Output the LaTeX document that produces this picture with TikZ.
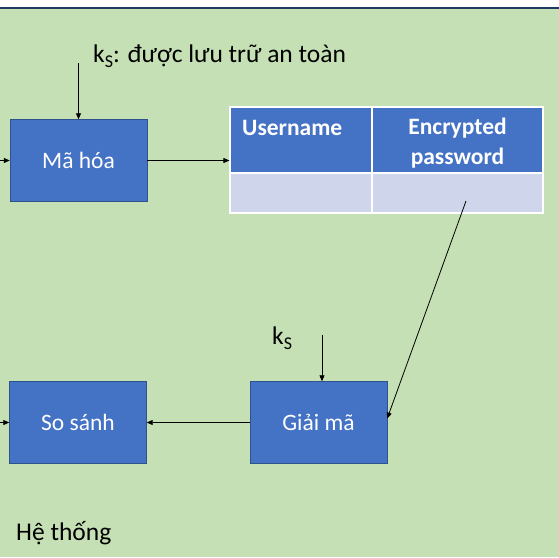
\documentclass[tikz,border=0pt]{standalone}
\usepackage{fontspec}
\setmainfont{Carlito}
\usetikzlibrary{arrows.meta,positioning}

\definecolor{bggreen}{HTML}{C5E0B4}
\definecolor{boxblue}{HTML}{4472C4}
\definecolor{boxline}{HTML}{2F528F}
\definecolor{cellblue}{HTML}{CFD5EA}
\definecolor{topline}{HTML}{203864}

\newcommand{\diagfont}{\fontsize{23.5}{30}\selectfont}
\newcommand{\labelfont}{\fontsize{25.5}{30}\selectfont}
\newcommand{\ksub}{k\raisebox{-5pt}{\fontsize{18}{18}\selectfont S}}

\begin{document}
\begin{tikzpicture}
  [
    x=1pt, y=-1pt,
    >={Triangle[length=6pt,width=5pt]},
    block/.style = {draw=boxline, fill=boxblue, text=white, minimum width=137pt, minimum height=82pt, inner sep=0pt, font=\diagfont},
    hcell/.style = {draw=white, line width=1.2pt, fill=boxblue, minimum height=66pt, inner sep=0pt},
    bcell/.style = {draw=white, line width=1.2pt, fill=cellblue, minimum height=40pt, inner sep=0pt},
    lbl/.style   = {inner sep=0pt, font=\labelfont},
    flow/.style  = {->, line width=0.8pt},
  ]

\useasboundingbox (0,0) rectangle (559,557);

%Background of the slide
\fill[white] (0,0) rectangle (559,8);
\fill[bggreen] (0,8) rectangle (559,557);
\draw[topline, line width=1.5pt] (0,8) -- (559,8);

%Blocks
\node[block] (maHoa) at (78.5,160.5) {Mã hóa};
\node[block] (soSanh) at (78,422.5) {So sánh};
\node[block] (giaiMa) at (318.5,422.5) {Giải mã};

%Password table
\node[hcell, minimum width=142pt] (userHead) at (301,140) {};
\node[hcell, minimum width=171pt] (encHead) at (457.5,140) {};
\node[bcell, minimum width=142pt] (userBody) at (301,193) {};
\node[bcell, minimum width=171pt] (encBody) at (457.5,193) {};
\node[inner sep=0pt, font=\diagfont, text=white, anchor=base west] (userText) at (242,135) {\bfseries Username};
\node[inner sep=0pt, font=\diagfont, text=white, align=center, anchor=north] (encText) at (457.5,118) {\bfseries Encrypted\\\bfseries password};

%Labels
\node[lbl, anchor=base west] (ksStore) at (93,62) {\ksub: được lưu trữ an toàn};
\node[lbl, anchor=base west] (ksDec) at (272,344) {\ksub};
\node[lbl, anchor=base west] (heThong) at (16,540) {Hệ thống};

%Connectors
\coordinate (inMa) at (0,160.5);
\coordinate (ksTop) at (78.5,63);
\coordinate (encPt) at (466,201);
\coordinate (ksTop2) at (322,335);
\coordinate (inSo) at (0,422.5);

\draw[flow] (inMa) -- (maHoa.west);
\draw[flow] (ksTop) -- (maHoa.north);
\draw[flow] (maHoa.east) -- (maHoa.east -| userHead.west);
\draw[flow] (encPt) -- ([yshift=4pt]giaiMa.east);
\draw[flow] (ksTop2) -- (ksTop2 |- giaiMa.north);
\draw[flow] (giaiMa.west) -- (soSanh.east);
\draw[flow] (inSo) -- (soSanh.west);
\end{tikzpicture}
\end{document}
